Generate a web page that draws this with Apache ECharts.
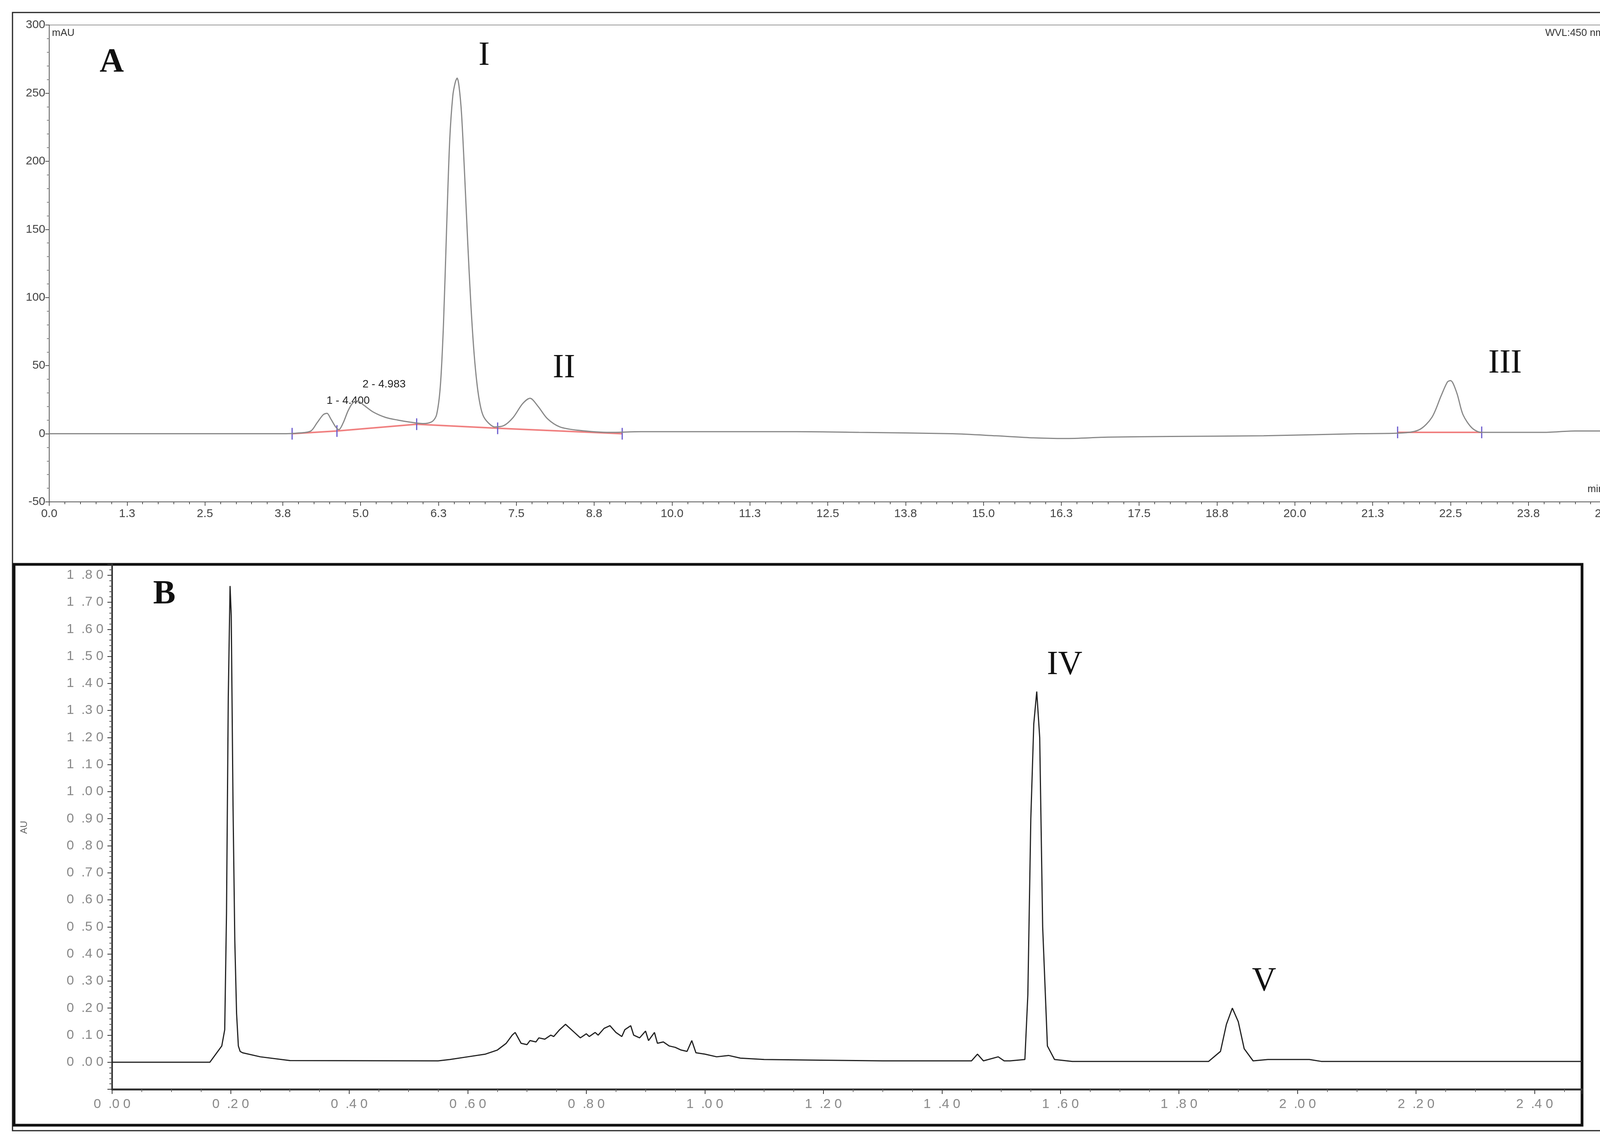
<!DOCTYPE html>
<html>
<head>
<meta charset="utf-8">
<script src="https://cdn.jsdelivr.net/npm/echarts@6/dist/echarts.min.js"></script>
<style>html,body{margin:0;padding:0;background:#fff;overflow:hidden}#main{width:4206px;height:2924px}</style>
</head>
<body>
<div id="main"></div>
<script>
// panel A: retention time (min) and absorbance (mAU)
var timeA = [0, 3.3, 3.8, 4.0, 4.2, 4.3, 4.4, 4.46, 4.52, 4.6, 4.65, 4.72, 4.8, 4.88, 4.95, 5.05, 5.2, 5.4, 5.6, 5.8, 6.0, 6.15, 6.22, 6.28, 6.33, 6.38, 6.43, 6.48, 6.52, 6.55, 6.58, 6.62, 6.67, 6.72, 6.77, 6.82, 6.87, 6.92, 6.97, 7.05, 7.15, 7.3, 7.45, 7.6, 7.72, 7.85, 8.0, 8.2, 8.5, 9.0, 9.5, 10.5, 12.0, 13.0, 14.5, 15.2, 15.8, 16.3, 17.0, 18.0, 19.5, 21.0, 21.7, 22.0, 22.2, 22.35, 22.45, 22.5, 22.6, 22.7, 22.85, 23.0, 24.0, 24.5, 25.0];
var absA  = [0, 0, 0, 0.5, 2, 8, 14, 15, 11, 5, 3, 8, 17, 23, 24, 21, 16, 12, 10, 8.5, 7.5, 9, 14, 35, 80, 150, 215, 248, 258, 261, 255, 235, 190, 140, 95, 60, 36, 21, 13, 8, 5, 6, 12, 22, 26, 20, 11, 5, 2.5, 1, 1.5, 1.5, 1.5, 1, 0, -1.5, -3, -3.5, -2.5, -2, -1.5, 0, 0.5, 3, 12, 28, 38, 39, 30, 14, 4, 1, 1, 2, 2];
// integration baseline segments (red) and marker positions
var baseT = [3.9, 4.62, 5.9, 7.2, 9.2];
var baseV = [0, 2, 7, 4, 0];
var base2T = [21.65, 23.0];
var base2V = [1, 1];
// panel B: time (min) and absorbance (AU)
var timeB = [0, 0.165, 0.175, 0.185, 0.19, 0.193, 0.196, 0.199, 0.201, 0.204, 0.207, 0.21, 0.213, 0.216, 0.22, 0.25, 0.3, 0.55, 0.57, 0.6, 0.63, 0.65, 0.665, 0.675, 0.68, 0.69, 0.7, 0.705, 0.715, 0.72, 0.73, 0.74, 0.745, 0.755, 0.765, 0.77, 0.78, 0.79, 0.8, 0.805, 0.815, 0.82, 0.83, 0.84, 0.85, 0.86, 0.865, 0.875, 0.88, 0.89, 0.9, 0.905, 0.915, 0.92, 0.93, 0.94, 0.95, 0.96, 0.97, 0.978, 0.985, 1.0, 1.02, 1.04, 1.06, 1.1, 1.18, 1.3, 1.45, 1.46, 1.47, 1.495, 1.505, 1.515, 1.54, 1.545, 1.55, 1.555, 1.56, 1.565, 1.57, 1.578, 1.59, 1.62, 1.85, 1.87, 1.88, 1.89, 1.9, 1.91, 1.925, 1.95, 2.02, 2.04, 2.3, 2.48];
var absB  = [0, 0, 0.03, 0.06, 0.12, 0.55, 1.35, 1.76, 1.65, 0.95, 0.45, 0.18, 0.06, 0.04, 0.035, 0.02, 0.006, 0.005, 0.01, 0.02, 0.03, 0.045, 0.07, 0.1, 0.11, 0.07, 0.065, 0.08, 0.075, 0.09, 0.085, 0.1, 0.095, 0.12, 0.14, 0.13, 0.11, 0.09, 0.105, 0.095, 0.11, 0.1, 0.125, 0.135, 0.11, 0.095, 0.12, 0.135, 0.1, 0.09, 0.115, 0.08, 0.11, 0.07, 0.075, 0.06, 0.055, 0.045, 0.04, 0.08, 0.035, 0.03, 0.02, 0.025, 0.015, 0.01, 0.008, 0.005, 0.005, 0.03, 0.005, 0.02, 0.005, 0.005, 0.01, 0.25, 0.9, 1.25, 1.37, 1.2, 0.5, 0.06, 0.01, 0.003, 0.003, 0.04, 0.14, 0.2, 0.15, 0.05, 0.005, 0.01, 0.01, 0.003, 0.003, 0.003];

function pairs(xs, ys) { return xs.map(function (x, i) { return [x, ys[i]]; }); }
function spaced(v) { return v.toFixed(2).split('').join(' ').replace(' . ', '  .'); }

var myChart = echarts.init(document.getElementById('main'));
var gray = '#555';
var tickFont = { color: '#444', fontSize: 30, fontFamily: 'Liberation Sans' };
var serif = 'Liberation Serif';

var option = {
    backgroundColor: '#fff',
    animation: false,
    grid: [
        { left: 126, right: 94, top: 64, bottom: 1639, show: true, borderColor: '#999', borderWidth: 2 },
        { left: 287, right: 156, top: 1445, bottom: 135, show: false }
    ],
    xAxis: [{
        gridIndex: 0, type: 'value', min: 0, max: 25, interval: 1.25,
        axisLine: { onZero: false, lineStyle: { color: gray, width: 2 } },
        axisTick: { length: 10, lineStyle: { color: gray, width: 2 } },
        minorTick: { show: true, splitNumber: 5, length: 6, lineStyle: { color: gray, width: 2 } },
        splitLine: { show: false },
        axisLabel: Object.assign({ margin: 16, formatter: function (v) { return v.toFixed(1); } }, tickFont)
    }, {
        gridIndex: 1, type: 'value', min: 0, max: 2.48, interval: 0.2,
        axisLine: { onZero: false, lineStyle: { color: '#333', width: 5 } },
        axisTick: { length: 12, lineStyle: { color: '#333', width: 2 } },
        minorTick: { show: true, splitNumber: 4, length: 7, lineStyle: { color: '#666', width: 2 } },
        splitLine: { show: false },
        axisLabel: Object.assign({ margin: 22, formatter: function (v) { return v > 2.45 ? '' : spaced(v); } }, tickFont, { color: '#888', fontSize: 34 })
    }],
    yAxis: [{
        gridIndex: 0, type: 'value', min: -50, max: 300, interval: 50,
        axisLine: { show: true, onZero: false, lineStyle: { color: gray, width: 2 } },
        axisTick: { show: true, length: 10, lineStyle: { color: gray, width: 2 } },
        minorTick: { show: true, splitNumber: 5, length: 6, lineStyle: { color: '#888', width: 2 } },
        splitLine: { show: false },
        axisLabel: Object.assign({ margin: 10 }, tickFont)
    }, {
        gridIndex: 1, type: 'value', min: -0.1, max: 1.84, interval: 0.1,
        axisLine: { show: true, onZero: false, lineStyle: { color: '#333', width: 4 } },
        axisTick: { show: true, length: 12, lineStyle: { color: '#333', width: 2 } },
        minorTick: { show: true, splitNumber: 5, length: 7, lineStyle: { color: '#555', width: 2 } },
        splitLine: { show: false },
        axisLabel: Object.assign({ margin: 22, formatter: function (v) { return (v < -0.01 || v > 1.81) ? '' : spaced(v); } }, tickFont, { color: '#888', fontSize: 34 })
    }],
    series: [{
        type: 'line', xAxisIndex: 0, yAxisIndex: 0, data: pairs(baseT, baseV),
        showSymbol: true, symbol: 'rect', symbolSize: [3, 30],
        itemStyle: { color: '#6a5acd' }, lineStyle: { color: '#f08080', width: 4 }, z: 2
    }, {
        type: 'line', xAxisIndex: 0, yAxisIndex: 0, data: pairs(base2T, base2V),
        showSymbol: true, symbol: 'rect', symbolSize: [3, 30],
        itemStyle: { color: '#6a5acd' }, lineStyle: { color: '#f08080', width: 4 }, z: 2
    }, {
        type: 'line', xAxisIndex: 0, yAxisIndex: 0, data: pairs(timeA, absA),
        smooth: 0.3, showSymbol: false, lineStyle: { color: '#888', width: 3 }, z: 3
    }, {
        type: 'line', xAxisIndex: 1, yAxisIndex: 1, data: pairs(timeB, absB),
        showSymbol: false, lineStyle: { color: '#222', width: 3 }, z: 3
    }],
    graphic: [
        { type: 'rect', shape: { x: 32, y: 32, width: 4120, height: 2863 }, style: { fill: 'none', stroke: '#222', lineWidth: 3 }, silent: true },
        { type: 'rect', shape: { x: 36, y: 1445, width: 4014, height: 1436 }, style: { fill: 'none', stroke: '#111', lineWidth: 7 }, silent: true },
        { type: 'text', left: 255, top: 118, style: { text: 'A', font: 'bold 86px ' + serif, fill: '#111' } },
        { type: 'text', left: 1225, top: 100, style: { text: 'I', font: '86px ' + serif, fill: '#111' } },
        { type: 'text', left: 1415, top: 900, style: { text: 'II', font: '86px ' + serif, fill: '#111' } },
        { type: 'text', left: 3810, top: 888, style: { text: 'III', font: '86px ' + serif, fill: '#111' } },
        { type: 'text', left: 392, top: 1480, style: { text: 'B', font: 'bold 86px ' + serif, fill: '#111' } },
        { type: 'text', left: 2680, top: 1660, style: { text: 'IV', font: '86px ' + serif, fill: '#111' } },
        { type: 'text', left: 3205, top: 2470, style: { text: 'V', font: '86px ' + serif, fill: '#111' } },
        { type: 'text', left: 836, top: 1012, style: { text: '1 - 4.400', font: '28px Liberation Sans', fill: '#222' } },
        { type: 'text', left: 928, top: 970, style: { text: '2 - 4.983', font: '28px Liberation Sans', fill: '#222' } },
        { type: 'text', left: 133, top: 72, style: { text: 'mAU', font: '26px Liberation Sans', fill: '#333' } },
        { type: 'text', right: 100, top: 72, style: { text: 'WVL:450 nm', font: '26px Liberation Sans', fill: '#333' } },
        { type: 'text', right: 100, top: 1240, style: { text: 'min', font: '26px Liberation Sans', fill: '#333' } },
        { type: 'text', x: 50, y: 2135, rotation: Math.PI / 2, style: { text: 'AU', font: '24px Liberation Sans', fill: '#666' } }
    ]
};
myChart.setOption(option);
window.addEventListener('resize', function () { myChart.resize(); });
</script>
</body>
</html>
